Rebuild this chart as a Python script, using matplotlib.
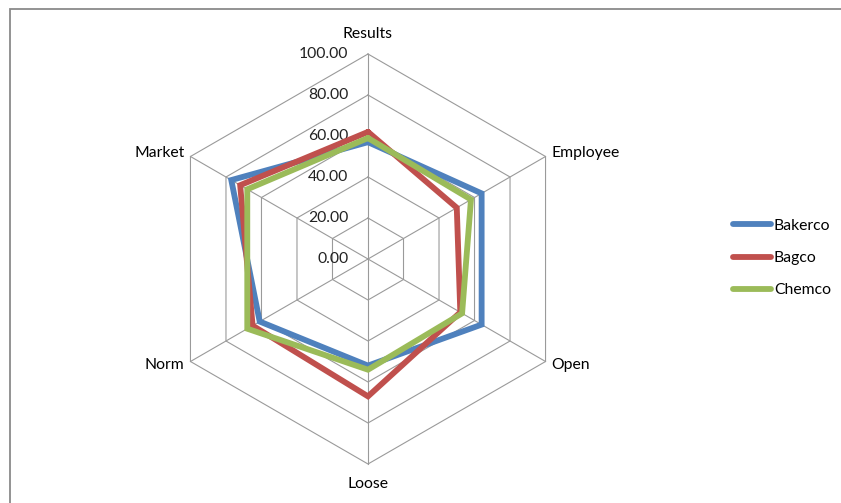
import matplotlib.pyplot as plt
import matplotlib.patches as mpatches
import numpy as np

plt.rcParams['font.family'] = ['Lato', 'DejaVu Sans']

# Datos del grafico radar
categories = ['Results', 'Employee', 'Open', 'Loose', 'Norm', 'Market']
bakerco = [57, 64, 64, 52, 61, 77]
bagco = [62, 50, 52, 67, 65, 72]
chemco = [59, 58, 53, 54, 68, 68]
ticks = [0, 20, 40, 60, 80, 100]
tick_labels = ['0.00', '20.00', '40.00', '60.00', '80.00', '100.00']

series = [('Bakerco', bakerco, '#4F81BD'),
          ('Bagco', bagco, '#C0504D'),
          ('Chemco', chemco, '#9BBB59')]

n = len(categories)
angles = np.arange(n) * 2 * np.pi / n  # sentido horario desde arriba


def to_xy(vals):
    vals = np.asarray(vals, dtype=float)
    x = vals * np.sin(angles)
    y = vals * np.cos(angles)
    return np.append(x, x[0]), np.append(y, y[0])


fig = plt.figure(figsize=(8.41, 5.03), dpi=100)
ax = fig.add_axes([0, 0, 1, 1])
scale = 2.05  # pixeles por unidad
cx, cy = 368, 259
ax.set_xlim(-cx / scale, (841 - cx) / scale)
ax.set_ylim(-(503 - cy) / scale, cy / scale)
ax.axis('off')

fs = 11.3

# Marco exterior
fig.patches.append(mpatches.Rectangle((10 / 841, -0.1), 1.2, 1.1 - 9 / 503,
                                      transform=fig.transFigure, fill=False,
                                      edgecolor='#8a8a8a', lw=1.3))

# Rejilla hexagonal
grid_color = '#9a9a9a'
for t in ticks[1:]:
    gx, gy = to_xy([t] * n)
    ax.plot(gx, gy, color=grid_color, lw=0.8, zorder=1)
for a in angles:
    ax.plot([0, 100 * np.sin(a)], [0, 100 * np.cos(a)], color=grid_color, lw=0.8, zorder=1)

# Etiquetas del eje radial
for t, lab in zip(ticks, tick_labels):
    ax.text(-9.5, t, lab, ha='right', va='center', fontsize=fs, color='#222222')

# Etiquetas de categoria
for a, cat in zip(angles, categories):
    s, c = np.sin(a), np.cos(a)
    if abs(s) < 1e-6:
        ax.text(0, 110 * c, cat, ha='center', va='center', fontsize=fs)
    else:
        ax.text(103.5 * s, 103.5 * c, cat, ha='left' if s > 0 else 'right',
                va='center', fontsize=fs)

# Series
for name, vals, col in series:
    x, y = to_xy(vals)
    ax.plot(x, y, color=col, lw=4.2, label=name, solid_joinstyle='miter',
            solid_capstyle='round', zorder=3)

ax.legend(loc='center left', bbox_to_anchor=(733 / 841, 1 - 258 / 503),
          bbox_transform=fig.transFigure, frameon=False, fontsize=fs,
          handlelength=2.4, handletextpad=0.2, labelspacing=1.15,
          borderaxespad=0, borderpad=0)

fig.savefig('out.png', dpi=100)
